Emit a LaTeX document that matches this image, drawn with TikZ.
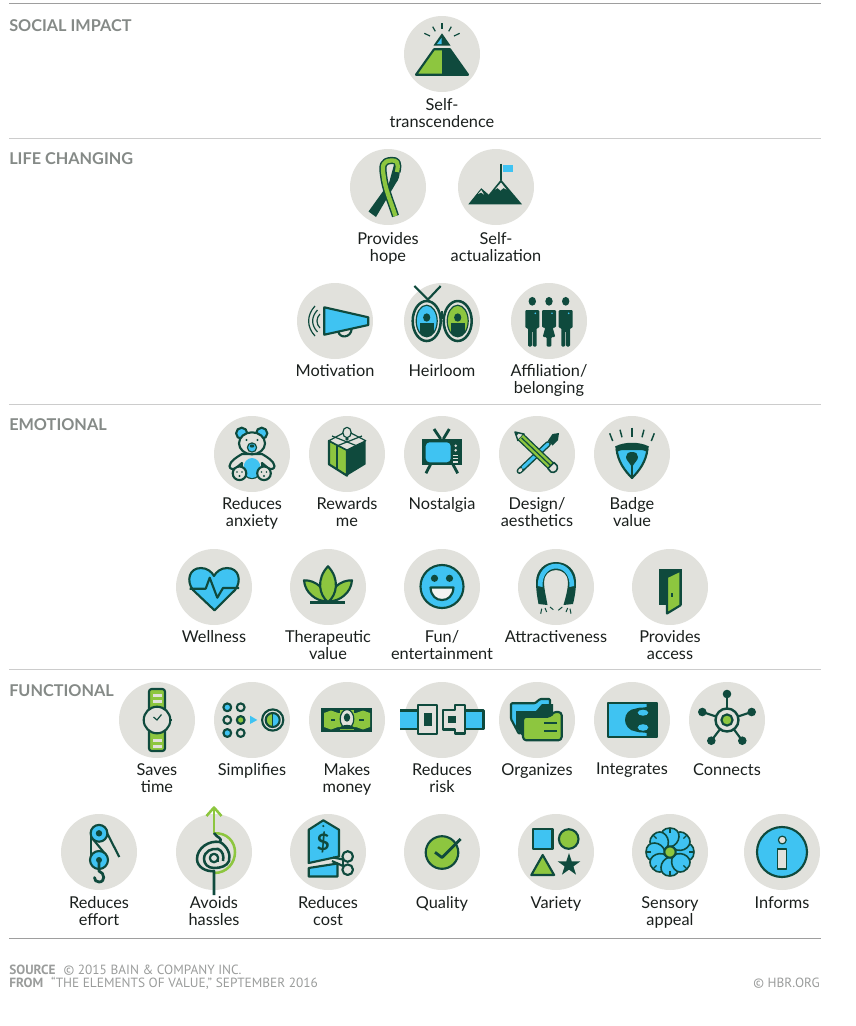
\documentclass[tikz,border=0pt]{standalone}
\usepackage{fontspec}
\setmainfont{Lato}
\newfontfamily\footfont{PT Sans}
\definecolor{hbrdark}{HTML}{0F4A3D}
\definecolor{hbrgreen}{HTML}{8DC63F}
\definecolor{hbrblue}{HTML}{3FC3F2}
\definecolor{hbrgray}{HTML}{E1E1DC}
\definecolor{hbrtext}{HTML}{1A1F1D}
\definecolor{hbrhead}{HTML}{858A87}
\definecolor{hbrfoot}{HTML}{9A9C9B}
\tikzset{
	disc/.style={circle,fill=hbrgray,minimum size=57pt,inner sep=0pt},
	itemlabel/.style={anchor=north,align=center,inner sep=0pt,text=hbrtext,font=\fontsize{12.25}{12.75}\selectfont},
	heading/.style={anchor=base west,inner sep=0pt,text=hbrhead,font=\fontsize{12.2}{14}\selectfont\bfseries},
	footing/.style={anchor=base west,inner sep=0pt,text=hbrfoot,font=\footfont\fontsize{10}{12}\selectfont},
	ink/.style={draw=hbrdark,line width=1.6pt,line join=round},
	thick ink/.style={draw=hbrdark,line width=2.1pt,line join=round},
	thin ink/.style={draw=hbrdark,line width=0.9pt,line join=round},
	rule dark/.style={draw=black!38,line width=0.8pt},
	rule light/.style={draw=black!20,line width=0.8pt},
}
\begin{document}
\begin{tikzpicture}[x=0.75pt,y=-0.75pt]
	\useasboundingbox (0,0) rectangle (856,1026);

	% rules between the four levels
	\draw[rule dark] (9,3.5) -- (821,3.5);
	\draw[rule light] (9,138.5) -- (821,138.5);
	\draw[rule light] (9,404.5) -- (821,404.5);
	\draw[rule light] (9,669.5) -- (821,669.5);
	\draw[rule dark] (9,938.5) -- (821,938.5);

	\node[heading] (social) at (9,31) {SOCIAL IMPACT};
	\node[heading] (life) at (9,164) {LIFE CHANGING};
	\node[heading] (emotional) at (9,430) {EMOTIONAL};
	\node[heading] (functional) at (9,696) {FUNCTIONAL};

	\foreach \cx/\cy/\dy/\nm/\txt in {
		442/54/4.5/transcend/{Self-\\transcendence},
		388/187/5.5/hope/{Provides\\hope},
		496/187/5.5/actual/{Self-\\actualization},
		335/321/3.5/motivation/{Motivation},
		442/321/3.5/heirloom/{Heirloom},
		549/321/3.5/affiliation/{Affiliation/\\belonging},
		252/454/3.5/anxiety/{Reduces\\anxiety},
		347/454/3.5/rewards/{Rewards\\me},
		442/454/3.5/nostalgia/{Nostalgia},
		537/454/3.5/design/{Design/\\aesthetics},
		632/454/3.5/badge/{Badge\\value},
		214/587/3.5/wellness/{Wellness},
		328/587/3.5/therapeutic/{Therapeutic\\value},
		442/587/3.5/fun/{Fun/\\entertainment},
		556/587/3.5/attract/{Attractiveness},
		670/587/3.5/access/{Provides\\access},
		157/720/3.5/saves/{Saves\\time},
		252/720/3.5/simplifies/{Simplifies},
		347/720/3.5/money/{Makes\\money},
		442/720/3.5/risk/{Reduces\\risk},
		537/720/3.5/organizes/{Organizes},
		632/720/3.5/integrates/{Integrates},
		727/720/3.5/connects/{Connects},
		99/852/4.5/effort/{Reduces\\effort},
		214/852/4.5/hassles/{Avoids\\hassles},
		328/852/4.5/cost/{Reduces\\cost},
		442/852/4.5/quality/{Quality},
		556/852/4.5/variety/{Variety},
		670/852/4.5/sensory/{Sensory\\appeal},
		782/852/4.5/informs/{Informs}%
	}{
		\node[disc] (\nm) at (\cx,\cy) {};
		\node[itemlabel,yshift=-\dy pt] (\nm-text) at (\nm.south) {\rule{0pt}{8.4pt}\txt};
	}

	% self-transcendence
	\begin{scope}[shift={(transcend)}]
		\fill[hbrgreen] (-26,20.7) -- (-8,-4.7) -- (0,-4.7) -- (0,20.7) -- cycle;
		\fill[hbrdark] (0,-4.7) -- (8,-4.7) -- (26,20.7) -- (0,20.7) -- cycle;
		\draw[ink] (-26,20.7) -- (-8,-4.7) -- (8,-4.7) -- (26,20.7) -- cycle;
		\fill[hbrdark] (0,-20.7) -- (8.5,-8.5) -- (-8.5,-8.5) -- cycle;
		\fill[hbrblue] (-0.5,-16) -- (-0.5,-10) -- (-5,-10) -- cycle;
		\foreach \px/\py/\qx/\qy in {0/-31/0/-24.7,-9.3/-27.3/-6.7/-22.7,9.3/-27.3/6.7/-22.7,-17.7/-20.7/-12/-18,17.7/-20.7/12/-18}{
			\draw[thin ink] (\px,\py) -- (\qx,\qy);
		}
	\end{scope}

	% ribbon
	\begin{scope}[shift={(hope)}]
		\fill[hbrdark] (7,-26) .. controls (13,-20) and (13,-10) .. (8,-4) -- (-12,30) -- (-19.5,24.5) -- (1,-4) -- cycle;
		\draw[hbrdark,line width=5.4pt,line join=round] (9,-15) .. controls (11,-25) and (9,-27) .. (3,-26.5) .. controls (-5,-26) and (-6,-22) .. (-4.5,-12) .. controls (-3,2) and (3,15) .. (7.5,29);
		\draw[hbrgreen,line width=3.2pt,line join=round] (9,-15) .. controls (11,-25) and (9,-27) .. (3,-26.5) .. controls (-5,-26) and (-6,-22) .. (-4.5,-12) .. controls (-3,2) and (3,15) .. (7.5,29);
	\end{scope}

	% mountain
	\begin{scope}[shift={(actual)}]
		\fill[hbrdark] (-27.7,17.3) -- (-14.7,1.2) -- (-7.3,7.7) -- (5,-7.5) -- (26,17.3) -- cycle;
		\fill[hbrgray] (5,-4.5) -- (-1,2.5) -- (1.5,1) -- (4.5,3.5) -- (7.5,1) -- (10.5,2.5) -- cycle;
		\fill[hbrgray] (-14.7,3) -- (-18,7) -- (-15,5.5) -- (-12,7.5) -- cycle;
		\draw[thin ink] (5,-23.3) -- (5,-7);
		\fill[hbrblue] (6.5,-22.3) rectangle (17.3,-14.7);
	\end{scope}

	% megaphone
	\begin{scope}[shift={(motivation)}]
		\draw[ink] (3.3,10) .. controls (4,18) and (16,17) .. (16.7,8);
		\draw[ink,fill=hbrblue] (-10.7,-13.7) -- (33.3,-3.7) -- (33.3,4) -- (-10.7,13.7) -- cycle;
		\draw[thin ink] (-20,-15) .. controls (-28.5,-6) and (-28.5,6) .. (-20,15);
		\draw[thin ink] (-17.5,-11) .. controls (-24,-4) and (-24,4) .. (-17.5,11);
		\draw[thin ink] (-15,-7) .. controls (-19,-3) and (-19,3) .. (-15,7);
	\end{scope}

	% heirloom frames
	\begin{scope}[shift={(heirloom)}]
		\draw[ink] (-27.7,-35) -- (-14,-21.5) -- (-1.3,-35);
		\draw[ink] (0,-2) -- (0,-10);
		\foreach \dx/\col in {-15.3/hbrblue,15.7/hbrgreen}{
			\begin{scope}[shift={(\dx,0)}]
				\draw[ink,line width=1.9pt,fill=hbrgray] (0,0) ellipse (14 and 20);
				\begin{scope}
					\clip (0,0) ellipse (10.5 and 15.8);
					\fill[\col] (-12,-17) rectangle (12,17);
					\fill[hbrdark] (-7,2) rectangle (7,17);
				\end{scope}
				\draw[thin ink] (0,0) ellipse (10.5 and 15.8);
				\fill[hbrdark] (0,-3.5) ellipse (3.6 and 4.2);
			\end{scope}
		}
	\end{scope}

	% three people
	\begin{scope}[shift={(affiliation)}]
		\foreach \dx in {-16.7,16.7}{
			\begin{scope}[shift={(\dx,0)}]
				\fill[hbrdark] (0,-19.7) ellipse (3.7 and 4.4);
				\fill[hbrdark,rounded corners=0.8pt] (-7,-11) -- (7,-11) -- (7,7) -- (4.3,7) -- (4.3,25.5) -- (0.4,25.5) -- (0.4,10) -- (-0.4,10) -- (-0.4,25.5) -- (-4.3,25.5) -- (-4.3,7) -- (-7,7) -- cycle;
				\fill[hbrblue] (3,-7.7) circle (0.9);
			\end{scope}
		}
		\fill[hbrdark] (0,-19.7) ellipse (3.7 and 4.4);
		\fill[hbrdark,rounded corners=0.8pt] (-7,-11) -- (7,-11) -- (7,6.5) -- (3.7,6.5) -- (6.3,16) -- (2.4,16) -- (2.4,25.5) -- (-2.4,25.5) -- (-2.4,16) -- (-6.3,16) -- (-3.7,6.5) -- (-7,6.5) -- cycle;
		\fill[hbrblue] (3,-7.7) circle (0.9);
	\end{scope}

	% teddy bear
	\begin{scope}[shift={(anxiety)}]
		\draw[ink,fill=hbrblue] (-10.3,-20.7) circle (5.6);
		\draw[ink,fill=hbrblue] (9.7,-20.7) circle (5.6);
		\draw[ink,fill=hbrgray] (-10,0) .. controls (-15,3) and (-22,7) .. (-22.5,12) .. controls (-22.5,15) and (-19,16) .. (-16,14) -- (-10,9) .. controls (-11,14) and (-8,24) .. (0,24) .. controls (8,24) and (11,14) .. (10,9) -- (16,14) .. controls (19,16) and (22.5,15) .. (22.5,12) .. controls (22,7) and (15,3) .. (10,0) -- cycle;
		\fill[hbrblue] (0,14) ellipse (8.6 and 10);
		\draw[ink,fill=hbrgray] (0,-10.7) ellipse (13 and 11);
		\fill[hbrblue] (0,-6.5) ellipse (4.6 and 4.6);
		\draw[thin ink] (0,-6.5) ellipse (4.6 and 4.6);
		\fill[hbrdark] (0,-8) ellipse (2.4 and 1.6);
		\fill[hbrdark] (-5.5,-14) circle (1.2);
		\fill[hbrdark] (5.5,-14) circle (1.2);
		\foreach \dx in {-12.5,12}{
			\draw[ink,fill=hbrgray] (\dx,19.3) circle (6.8);
			\fill[hbrdark] (\dx,22) circle (1.2);
			\fill[hbrdark] (\dx-2.5,18) circle (0.9);
			\fill[hbrdark] (\dx+2.5,18) circle (0.9);
		}
	\end{scope}

	% gift box
	\begin{scope}[shift={(rewards)}]
		\draw[ink,fill=hbrgreen] (-18,-13.3) -- (0,-4) -- (0,21.7) -- (-18,10.3) -- cycle;
		\fill[hbrdark] (0,-4) -- (18.7,-13.3) -- (18.7,10.3) -- (0,21.7) -- cycle;
		\draw[ink] (-9.7,-8.5) -- (-9.7,16);
		\draw[thin ink,fill=hbrgray] (-18,-13.3) -- (0,-23) -- (18.7,-13.3) -- (0,-4) -- cycle;
		\draw[thin ink] (-15,-18) -- (9,-8.5);
		\draw[thin ink] (15,-18) -- (-9,-8.5);
		\draw[thin ink,fill=hbrgray] (0,-21.5) ellipse (4.2 and 5.2);
		\fill[hbrdark] (0,-15) circle (1.8);
	\end{scope}

	% television
	\begin{scope}[shift={(nostalgia)}]
		\draw[thick ink] (-8,-25) -- (-1.3,-15);
		\draw[thick ink] (7.3,-25) -- (1.3,-15);
		\draw[thick ink] (-11.3,10) -- (-16,19.3);
		\draw[thick ink] (10.7,10) -- (15.7,19.3);
		\fill[hbrdark] (-19.7,-15) rectangle (19.7,11);
		\fill[hbrblue,rounded corners=3pt] (-16.3,-11.7) rectangle (8.7,8.3);
		\fill[hbrgray] (13.7,-8.3) circle (1.4);
		\fill[hbrgray] (13.7,-3.7) circle (1.4);
		\foreach \py in {0.6,3.8,7}{
			\fill[hbrgray] (11,\py) rectangle (16.4,\py+1.5);
		}
	\end{scope}

	% pencil and brush
	\begin{scope}[shift={(design)}]
		\draw[hbrdark,line width=4.4pt,line cap=round] (-17.5,17) -- (11,-10);
		\draw[hbrblue,line width=2.3pt,line cap=round] (-14,13.5) -- (11,-10);
		\draw[hbrgray,line width=2.3pt,line cap=round] (-17.5,17) -- (-16,15.5);
		\fill[hbrdark] (11,-13.5) -- (15.5,-20) -- (22,-21) -- (21,-14) -- (15.5,-8.5) -- cycle;
		\draw[ink,line width=1.1pt,fill=hbrgray] (-12.9,-19.9) -- (-22,-22) -- (-19.1,-13.5) -- cycle;
		\draw[hbrdark,line width=6.6pt] (-16,-16.7) -- (14,11.9);
		\draw[hbrgreen,line width=4.6pt] (-16,-16.7) -- (14,11.9);
		\draw[thin ink] (-15.5,-16.2) -- (14,11.9);
		\draw[ink,line width=1.2pt,fill=hbrgray] (11,14.6) -- (16.9,8.5) -- (20,11.5) .. controls (22,15) and (18,20) .. (14,18) -- cycle;
		\fill[hbrdark] (-22,-22) -- (-20.5,-18.5) -- (-18.5,-20.5) -- cycle;
	\end{scope}

	% badge
	\begin{scope}[shift={(badge)}]
		\draw[ink,fill=hbrblue] (-15.5,-5) .. controls (-14,8) and (-7,17) .. (0,24) .. controls (7,17) and (14,8) .. (15.5,-5) -- cycle;
		\fill[hbrdark] (-17,-7.5) .. controls (-8,-12.5) and (8,-12.5) .. (17,-7.5) -- (14.5,-2.5) .. controls (6,-6.5) and (-6,-6.5) .. (-14.5,-2.5) -- cycle;
		\fill[hbrdark] (0,-2) .. controls (4,-2) and (6,0) .. (6,3) .. controls (6,6) and (3,8) .. (0,13) .. controls (-3,8) and (-6,6) .. (-6,3) .. controls (-6,0) and (-4,-2) .. (0,-2) -- cycle;
		\draw[thin ink] (0,12) -- (0,24);
		\foreach \px/\py/\qx/\qy in {-22.3/-20.7/-19.3/-13,-12/-24.3/-10/-16.7,0/-26.3/0/-17.3,12/-24.3/10/-16.7,22.3/-20.7/19.3/-13}{
			\draw[ink,line width=1.1pt] (\px,\py) -- (\qx,\qy);
		}
	\end{scope}

	% heart with pulse
	\begin{scope}[shift={(wellness)}]
		\draw[ink,fill=hbrblue] (0.5,23.3) -- (-21,3) .. controls (-28,-6) and (-25,-19) .. (-13,-19) .. controls (-7,-19) and (-2,-15) .. (0,-11) .. controls (2,-15) and (7,-19) .. (13,-19) .. controls (25,-19) and (28,-6) .. (21,3) -- cycle;
		\draw[ink] (-24.3,1.7) -- (-8.3,1.7) -- (-4.3,-9.3) -- (3.3,10.7) -- (9,1) -- (25,1);
	\end{scope}

	% leaves
	\begin{scope}[shift={(therapeutic)}]
		\draw[ink,fill=hbrgreen] (-24,-6.7) .. controls (-23,6) and (-12,14) .. (-1,14.5) .. controls (-2,2) and (-12,-7) .. (-24,-6.7) -- cycle;
		\draw[ink,fill=hbrgreen] (24,-6.7) .. controls (23,6) and (12,14) .. (1,14.5) .. controls (2,2) and (12,-7) .. (24,-6.7) -- cycle;
		\draw[ink,fill=hbrgreen] (0,-20.7) .. controls (-12,-8) and (-9,8) .. (0,15) .. controls (9,8) and (12,-8) .. (0,-20.7) -- cycle;
		\draw[ink] (-18,15.5) -- (17,15.5);
	\end{scope}

	% smiley
	\begin{scope}[shift={(fun)}]
		\draw[ink,fill=hbrblue] (0,-0.5) circle (21.5);
		\fill[hbrdark] (-7.5,-8.7) circle (3.6);
		\fill[hbrdark] (7.5,-8.7) circle (3.6);
		\draw[ink,fill=hbrgray!40!white] (-11.5,0.5) -- (11.5,0.5) .. controls (11,9) and (6,13) .. (0,13) .. controls (-6,13) and (-11,9) .. (-11.5,0.5) -- cycle;
	\end{scope}

	% magnet
	\begin{scope}[shift={(attract)}]
		\fill[hbrdark] (-17.5,17) .. controls (-19,9) and (-20,2) .. (-20,-5) .. controls (-20,-17) and (-11,-25) .. (0,-25) .. controls (11,-25) and (20,-17) .. (20,-5) .. controls (20,2) and (19,9) .. (17,17) -- (7.5,18) .. controls (10,9) and (12,2) .. (12,-5) .. controls (12,-12) and (7,-17) .. (0,-17) .. controls (-7,-17) and (-12,-12) .. (-12,-5) .. controls (-12,2) and (-10,9) .. (-8.5,18) -- cycle;
		\fill[hbrblue] (-18.2,-1) .. controls (-18.5,-15) and (-10,-23.3) .. (0,-23.3) .. controls (10,-23.3) and (18.5,-15) .. (18.2,-1) -- (13.5,0) .. controls (14,-12) and (8,-18.5) .. (0,-18.5) .. controls (-8,-18.5) and (-14,-12) .. (-13.5,0) -- cycle;
		\foreach \px/\py/\qx/\qy in {-15.3/26.7/-14.3/21.7,-9.3/25/-11/21,-2.7/22.7/-6/20,2.3/23.3/6.3/20,10/25/11.7/21,15/26.7/14/21.7}{
			\draw[thin ink,line width=0.75pt] (\px,\py) -- (\qx,\qy);
		}
	\end{scope}

	% door
	\begin{scope}[shift={(access)}]
		\fill[hbrdark] (-11,-18.3) rectangle (11.7,18.3);
		\draw[ink,fill=hbrgreen] (-3,-10) -- (10.5,-16.5) -- (10.5,18.3) -- (-3,26.5) -- cycle;
		\fill[hbrdark] (1.2,5.5) rectangle (3,9.5);
	\end{scope}

	% watch
	\begin{scope}[shift={(saves)}]
		\draw[ink,fill=hbrgreen,rounded corners=2pt] (-8,-31) rectangle (8,31);
		\foreach \py in {-26,-20.5,19,24.5}{
			\fill[hbrgray] (-4.5,\py) rectangle (4.5,\py+3);
		}
		\draw[thick ink,line width=1.8pt] (13,0) -- (14.5,0);
		\draw[ink,fill=hbrgray] (0,0) circle (13.3);
		\draw[thin ink] (-3.5,-3) -- (0,0) -- (4.5,-5.5);
	\end{scope}

	% simplifies
	\begin{scope}[shift={(simplifies)}]
		\foreach \px/\py/\col in {-24.7/-12.7/hbrblue,-11.3/-12.7/hbrgray,-24.7/0/hbrgray,-11.3/0/hbrgreen,-24.7/13/hbrblue,-11.3/13/hbrgray}{
			\draw[ink,fill=\col] (\px,\py) circle (3.9);
		}
		\fill[hbrblue] (-2,-4.3) -- (5.3,0) -- (-2,4) -- cycle;
		\draw[ink,fill=hbrgray] (20.7,0) circle (10.6);
		\fill[hbrgreen] (20.7,-7) .. controls (16.5,-7) and (13.7,-4) .. (13.7,0) .. controls (13.7,4) and (16.5,7) .. (20.7,7) -- cycle;
		\fill[hbrblue] (20.7,-7) .. controls (25,-7) and (27.7,-4) .. (27.7,0) .. controls (27.7,4) and (25,7) .. (20.7,7) -- cycle;
		\draw[ink] (20.7,0) circle (7);
		\draw[thin ink] (20.7,-7) -- (20.7,7);
	\end{scope}

	% banknote
	\begin{scope}[shift={(money)}]
		\fill[hbrdark] (-25.7,-12.3) rectangle (25.3,12.3);
		\fill[hbrgreen] (-23,-7) -- (-16,-9.5) -- (-9,-7) -- (9,-7) -- (16,-9.5) -- (23,-7) -- (23,7) -- (16,9.5) -- (9,7) -- (-9,7) -- (-16,9.5) -- (-23,7) -- cycle;
		\fill[hbrgreen] (-7,-10) rectangle (7,10);
		\draw[thin ink,fill=hbrgray] (0,-1) ellipse (6.8 and 9.5);
		\fill[hbrdark] (0,-2.5) ellipse (3.2 and 4.2);
		\fill[hbrdark] (-8,9) .. controls (-6,3.5) and (6,3.5) .. (8,9) -- cycle;
		\fill[hbrdark] (-16.5,-1) rectangle (-12,1);
		\fill[hbrdark] (12,-1) rectangle (16.5,1);
	\end{scope}

	% seat belt
	\begin{scope}[shift={(risk)}]
		\fill[hbrblue] (-42,-9.5) rectangle (-23.7,9);
		\draw[ink] (-42,-9.5) -- (-23.7,-9.5);
		\draw[ink] (-42,9) -- (-23.7,9);
		\fill[hbrblue] (23,-9.5) rectangle (41.5,9);
		\draw[ink] (23,-9.5) rectangle (41.5,9);
		\draw[ink,fill=hbrgray] (-23.7,-15) rectangle (-4.7,14);
		\fill[hbrdark] (-18,-7.3) rectangle (-9.7,5.7);
		\draw[ink,fill=hbrgray] (0.7,-10) -- (13,-10) -- (13,-15) -- (23,-15) -- (23,13.5) -- (13,13.5) -- (13,9.5) -- (0.7,9.5) -- cycle;
		\fill[hbrdark] (6.3,-4) rectangle (14,3.3);
	\end{scope}

	% folders
	\begin{scope}[shift={(organizes)}]
		\draw[ink,fill=hbrblue,rounded corners=0.8pt] (-26,-16.7) -- (-2,-16.7) -- (3,-21) -- (13,-21) -- (13,-10) -- (-10,8) -- (-18,14) -- (-26,-1) -- cycle;
		\fill[hbrdark] (-21,-9) -- (-1,-9) -- (5,-16) -- (16,-16) -- (16,0) -- (-12,20) -- (-21,7) -- cycle;
		\draw[ink,fill=hbrgreen,rounded corners=2.5pt] (-14,-3.3) -- (14,-3.3) -- (15.5,-8) -- (24.7,-8) -- (24.7,20.3) -- (-14,20.3) -- cycle;
		\draw[ink] (7,3.3) -- (20.3,3.3);
		\draw[ink] (7,11) -- (20.3,11);
	\end{scope}

	% puzzle
	\begin{scope}[shift={(integrates)}]
		\fill[hbrblue] (-24.3,-17.3) rectangle (25.3,17.3);
		\fill[hbrdark] (14.7,-17.3) -- (25.3,-17.3) -- (25.3,17.3) -- (14.7,17.3) -- (14.7,13) .. controls (12,12) and (8,13) .. (4,11.5) .. controls (-3,11) and (-7,5) .. (-7,0) .. controls (-7,-6) and (-3,-11) .. (4,-11.5) .. controls (8,-13) and (12,-12) .. (14.7,-13) -- cycle;
		\fill[hbrblue] (11,-7.3) ellipse (5.3 and 3);
		\fill[hbrblue] (11,7.5) ellipse (5.3 and 3.3);
		\draw[ink] (-24.3,-17.3) rectangle (25.3,17.3);
	\end{scope}

	% hub and spokes
	\begin{scope}[shift={(connects)}]
		\foreach \px/\py in {0/-26,-24.7/-8,24.7/-8,-15.7/20.7,15.3/20.7}{
			\draw[ink] (0,0) -- (\px,\py);
			\fill[hbrdark] (\px,\py) circle (4.3);
		}
		\draw[ink,line width=1.8pt,fill=hbrgray] (0,0) circle (11.5);
		\draw[ink,fill=hbrgreen] (0,0) circle (5.6);
	\end{scope}

	% pulleys
	\begin{scope}[shift={(effort)}]
		\draw[ink] (-8,-18.7) -- (-8,8);
		\draw[ink] (-7,-14) -- (7,3);
		\draw[ink] (6,-23) -- (20.3,5);
		\draw[ink,fill=hbrblue] (0,-18.7) circle (8.4);
		\fill[hbrdark] (0,-18.7) circle (3.2);
		\draw[ink,fill=hbrblue] (0,8) circle (9);
		\fill[hbrdark] (0,8) circle (3);
		\draw[thick ink,line cap=round] (0,8) -- (0,19) .. controls (6,21) and (6.5,30) .. (0,30) .. controls (-3,30) and (-4.5,28) .. (-4.5,25.5);
	\end{scope}

	% knot and way out
	\begin{scope}[shift={(hassles)}]
		\draw[hbrgreen,line width=1.9pt] (0,-18.5) .. controls (13,-20) and (21,-10) .. (21,0) .. controls (21,11) and (13,21) .. (0,21);
		\draw[hbrgreen,line width=1.9pt,line join=round] (0,-18.5) -- (0,-44);
		\draw[hbrgreen,line width=1.9pt,line join=round] (-7.5,-36) -- (0,-44.5) -- (7.5,-36);
		\draw[thick ink,line width=1.9pt] (0,43) -- (0,19) .. controls (-8,20) and (-17,15) .. (-17,7) .. controls (-17,-4) and (-5,-12) .. (6,-10) .. controls (9,-14) and (3,-14) .. (0,-19);
		\draw[thick ink,line width=1.9pt] (6,-10) .. controls (13,-6) and (17,2) .. (15,9) .. controls (13,14) and (7,16) .. (0,16) .. controls (-6,16) and (-10,12) .. (-10,7) .. controls (-10,-1) and (-2,-4) .. (4,-3) .. controls (9,-1) and (10,4) .. (9,9);
		\draw[thick ink,line width=1.7pt] (0,6) circle (4.2);
		\draw[thick ink,line width=1.7pt] (4.2,6) -- (4.2,10);
	\end{scope}

	% price tag and scissors
	\begin{scope}[shift={(cost)}]
		\draw[ink,fill=hbrblue] (-19.3,11) -- (-19.3,-22.3) -- (-4.7,-31.7) -- (11,-22.3) -- (11,4.5) -- cycle;
		\fill[hbrdark] (-4.7,-26) circle (1.2);
		\draw[ink,fill=hbrblue] (-19.3,16) -- (9.5,11.5) -- (9.5,24.5) -- (-19.3,24.5) -- cycle;
		\node[text=hbrdark,inner sep=0pt,font=\fontsize{17}{17}\selectfont\bfseries] (dollar) at (-4.7,-9.5) {\$};
		\draw[ink] (15,7.5) -- (5,5.5);
		\draw[ink] (15,14) -- (4,9);
		\draw[ink] (15,7.5) -- (15,14);
		\draw[ink,fill=hbrgray] (19.7,4.5) circle (5.3);
		\draw[ink,fill=hbrgray] (19.7,17.7) circle (5.3);
	\end{scope}

	% check mark
	\begin{scope}[shift={(quality)}]
		\draw[ink,fill=hbrgreen] (0,0.5) circle (16.3);
		\draw[thick ink] (-7,0.3) -- (0,5.5) -- (18.7,-13);
	\end{scope}

	% four shapes
	\begin{scope}[shift={(variety)}]
		\draw[ink,fill=hbrblue] (-23,-23) rectangle (-3.5,-3.2);
		\draw[ink,fill=hbrgreen] (12.7,-13) circle (9.8);
		\draw[ink,fill=hbrgreen] (-13.3,3) -- (-24.7,23) -- (-1.9,23) -- cycle;
		\begin{scope}[shift={(13,13)}]
			\fill[hbrdark] (0,-12) -- (2.7,-3.7) -- (11.4,-3.7) -- (4.4,1.4) -- (7.05,9.7) -- (0,4.6) -- (-7.05,9.7) -- (-4.4,1.4) -- (-11.4,-3.7) -- (-2.7,-3.7) -- cycle;
		\end{scope}
	\end{scope}

	% flower
	\begin{scope}[shift={(sensory)}]
		\foreach \a in {0,45,...,315}{
			\draw[ink,line width=1.2pt,fill=hbrblue,rotate=\a] (5,0) .. controls (7,-11) and (24,-13) .. (24,0) .. controls (24,13) and (7,11) .. (5,0) -- cycle;
			\draw[thin ink,rotate=\a] (19,0) -- (24,0);
		}
		\draw[ink,fill=hbrgreen] (0,0) circle (5.7);
	\end{scope}

	% information
	\begin{scope}[shift={(informs)}]
		\draw[ink,fill=hbrblue] (0,0) circle (25);
		\draw[thin ink,fill=hbrgray] (0.3,-12) circle (3.9);
		\draw[thin ink,fill=hbrgray] (-4.3,-3) rectangle (4.7,17);
	\end{scope}

	% footer
	\node[footing] (source) at (9,974) {\textbf{SOURCE}\hspace{0.6em}© 2015 BAIN \& COMPANY INC.};
	\node[footing] (from) at (9,987) {\textbf{FROM}\hspace{0.6em}“THE ELEMENTS OF VALUE,” SEPTEMBER 2016};
	\node[footing,anchor=base east] (hbrorg) at (820,987) {© HBR.ORG};
\end{tikzpicture}
\end{document}
